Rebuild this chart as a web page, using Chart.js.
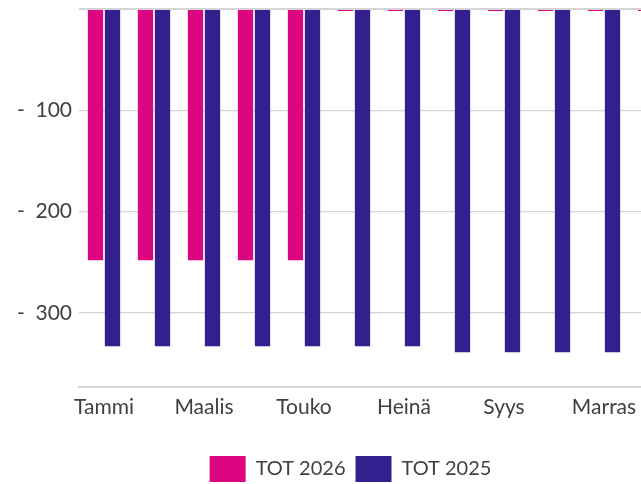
<!DOCTYPE html>
<html>
<head>
<meta charset="utf-8">
<script src="https://cdn.jsdelivr.net/npm/chart.js@4/dist/chart.umd.min.js"></script>
<style>
  html, body { margin: 0; padding: 0; overflow: hidden; background: #fff; }
  #wrap { width: 700px; height: 484px; }
</style>
</head>
<body>
<div id="wrap"><canvas id="chart" width="700" height="484"></canvas></div>
<script>
// ----- DATA ----- //
const months = ['Tammi', 'Helmi', 'Maalis', 'Huhti', 'Touko', 'Kesä', 'Heinä', 'Elo', 'Syys', 'Loka', 'Marras', 'Joulu'];
const tot2026 = [-248, -248, -248, -248, -248, 0, 0, 0, 0, 0, 0, 0];
const tot2025 = [-333, -333, -333, -333, -333, -333, -333, -339, -339, -339, -339, -339];
const yTicks = [-100, -200, -300];

const FONT = 'Lato, "Liberation Sans", sans-serif';
const TEXT = '#404040';
const GRID = '#d4d4d4';

// accounting style label: "-  100"
function fmtTick(v) {
  if (!yTicks.includes(v)) return '';
  return '-  ' + Math.abs(v);
}

// nudge the legend a bit right, it sits centred on the whole canvas
const shiftLegend = {
  id: 'shiftLegend',
  afterLayout(chart) {
    chart.legend.left += 11;
    chart.legend.right += 11;
  }
};

new Chart(document.getElementById('chart').getContext('2d'), {
  type: 'bar',
  data: {
    labels: months,
    datasets: [
      {
        label: 'TOT 2026',
        data: tot2026,
        backgroundColor: '#dc0780',
        minBarLength: 2,
        categoryPercentage: 0.68,
        barPercentage: 0.9
      },
      {
        label: 'TOT 2025',
        data: tot2025,
        backgroundColor: '#33208e',
        categoryPercentage: 0.68,
        barPercentage: 0.9
      }
    ]
  },
  plugins: [shiftLegend],
  options: {
    responsive: false,
    animation: false,
    layout: { padding: { top: 9, right: 21, left: 0, bottom: -8 } },
    plugins: {
      tooltip: { enabled: false },
      legend: {
        position: 'bottom',
        labels: {
          boxWidth: 36,
          boxHeight: 26,
          padding: 10,
          color: TEXT,
          font: { family: FONT, size: 20 }
        }
      }
    },
    scales: {
      x: {
        grid: { display: false, drawTicks: false },
        border: { display: true, color: GRID, width: 2 },
        afterFit: function(scale) { scale.height += 18; },
        ticks: {
          autoSkip: false,
          maxRotation: 0,
          padding: 8,
          color: TEXT,
          font: { family: FONT, size: 21 },
          callback: function(value, index) { return index % 2 === 0 ? months[index] : ''; }
        }
      },
      y: {
        min: -373,
        max: 0,
        afterFit: function(scale) {
          scale.width = 79;
          scale.paddingTop = 0;
          scale.paddingBottom = 0;
        },
        border: { display: false },
        grid: {
          color: GRID,
          drawTicks: false,
          lineWidth: ctx => (ctx.tick && ctx.tick.value === 0 ? 2 : 1.2)
        },
        ticks: {
          stepSize: 100,
          includeBounds: false,
          padding: 7,
          color: TEXT,
          font: { family: FONT, size: 21 },
          callback: fmtTick
        }
      }
    }
  }
});
</script>
</body>
</html>
